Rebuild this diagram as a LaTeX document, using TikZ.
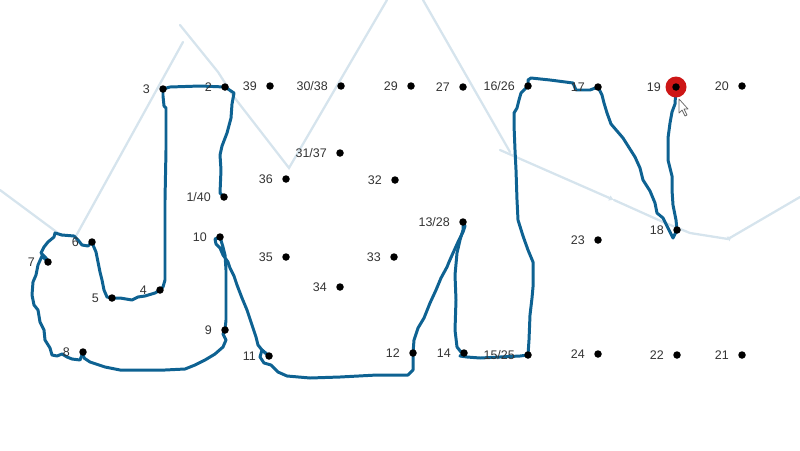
\documentclass[tikz,border=0pt]{standalone}
\usepackage{fontspec}
\setmainfont{Liberation Sans}
\usetikzlibrary{backgrounds,arrows.meta}
\definecolor{penblue}{RGB}{14,98,146}
\definecolor{faintblue}{RGB}{214,228,237}
\definecolor{markred}{RGB}{205,22,22}
\definecolor{labgray}{RGB}{51,51,51}

\begin{document}
\begin{tikzpicture}[x=0.02cm,y=-0.02cm]
\tikzset{v/.style={circle,fill=black,inner sep=0pt,minimum size=0.15cm},
  lab/.style={font=\fontsize{7.1}{8}\selectfont,text=labgray,inner sep=0pt,xshift=-0.175cm},
  pen/.style={draw=penblue,line width=1.7pt,line join=round,line cap=round},
  trace/.style={draw=faintblue,line width=1.3pt,line cap=round}}
\useasboundingbox (0,0) rectangle (800,450);

% top row
\path (163,89) node[v,label={[lab]left:3}] (p3) {};
\path (225,87) node[v,label={[lab]left:2}] (p2) {};
\path (270,86) node[v,label={[lab]left:39}] (p39) {};
\path (341,86) node[v,label={[lab]left:30/38}] (p30) {};
\path (411,86) node[v,label={[lab]left:29}] (p29) {};
\path (463,87) node[v,label={[lab]left:27}] (p27) {};
\path (528,86) node[v,label={[lab]left:16/26}] (p16) {};
\path (598,87) node[v,label={[lab]left:17}] (p17) {};
\path (742,86) node[v,label={[lab]left:20}] (p20) {};

% middle
\path (340,153) node[v,label={[lab]left:31/37}] (p31) {};
\path (286,179) node[v,label={[lab]left:36}] (p36) {};
\path (395,180) node[v,label={[lab]left:32}] (p32) {};
\path (224,197) node[v,label={[lab]left:1/40}] (p1) {};
\path (463,222) node[v,label={[lab]left:13/28}] (p13) {};
\path (677,230) node[v,label={[lab]left:18}] (p18) {};
\path (598,240) node[v,label={[lab]left:23}] (p23) {};
\path (92,242) node[v,label={[lab]left:6}] (p6) {};
\path (220,237) node[v,label={[lab]left:10}] (p10) {};
\path (48,262) node[v,label={[lab]left:7}] (p7) {};
\path (286,257) node[v,label={[lab]left:35}] (p35) {};
\path (394,257) node[v,label={[lab]left:33}] (p33) {};
\path (340,287) node[v,label={[lab]left:34}] (p34) {};
\path (160,290) node[v,label={[lab]left:4}] (p4) {};
\path (112,298) node[v,label={[lab]left:5}] (p5) {};
\path (225,330) node[v,label={[lab]left:9}] (p9) {};

% bottom row
\path (83,352) node[v,label={[lab]left:8}] (p8) {};
\path (269,356) node[v,label={[lab]left:11}] (p11) {};
\path (413,353) node[v,label={[lab]left:12}] (p12) {};
\path (464,353) node[v,label={[lab]left:14}] (p14) {};
\path (528,355) node[v,label={[lab]left:15/25}] (p15) {};
\path (598,354) node[v,label={[lab]left:24}] (p24) {};
\path (677,355) node[v,label={[lab]left:22}] (p22) {};
\path (742,355) node[v,label={[lab]left:21}] (p21) {};

% current dot
\path (676,87) node[circle,fill=markred,minimum size=0.42cm,inner sep=0pt] (mark) {};
\path (676,87) node[v,label={[lab,xshift=-0.04cm]left:19}] (p19) {};

\begin{pgfonlayer}{background}
% earlier strokes
\draw[trace] (0,190) -- (62,236);
\draw[trace] (183,42) -- (76,236);
\draw[trace] (180,25) -- (218,72) -- (234,97) -- (289,168) -- (387,0);
\draw[trace] (423,0) -- (510,152);
\draw[trace,-{Latex[length=0.1cm,width=0.12cm]}] (500,150) -- (614,200);
\draw[trace] (614,200) -- (663,222) -- (690,233) -- (728,239);
\draw[trace,{Latex[length=0.1cm,width=0.12cm,reversed]}-] (728,239) -- (800,197);

% pen stroke
\draw[pen] (p1.center) -- (220,193) -- (221,170) -- (220,155) -- (222,146) -- (227,133)
  -- (231,118) -- (232,104) -- (234,93) -- (228,89) -- (p2.center) -- (200,86) -- (170,87) -- (p3.center);
\draw[pen] (p3.center) -- (163,96) -- (164,106) -- (166,108) -- (166,150) -- (165,200)
  -- (165,250) -- (165,280) -- (163,287) -- (p4.center);
\draw[pen] (p4.center) -- (155,293) -- (145,296) -- (138,297) -- (132,300) -- (120,298) -- (p5.center);
\draw[pen] (p5.center) -- (107,297) -- (104,290) -- (102,280) -- (100,272) -- (98,262)
  -- (96,252) -- (93,245) -- (p6.center);
\draw[pen] (p6.center) -- (88,246) -- (82,245) -- (78,240) -- (74,236) -- (62,235) -- (55,233)
  -- (54,237) -- (48,242) -- (44,247) -- (41,253) -- (46,258) -- (p7.center);
\draw[pen] (p7.center) -- (42,256) -- (38,265) -- (36,275) -- (33,282) -- (32,295) -- (34,305)
  -- (38,310) -- (40,322) -- (44,330) -- (45,340) -- (50,348) -- (52,355) -- (57,356)
  -- (62,354) -- (67,357) -- (72,359) -- (80,360) -- (82,355) -- (p8.center);
\draw[pen] (p8.center) -- (84,358) -- (90,362) -- (105,367) -- (120,370) -- (140,370)
  -- (165,370) -- (185,369) -- (195,365) -- (205,360) -- (215,354) -- (223,347)
  -- (226,340) -- (223,334) -- (p9.center);
\draw[pen] (p9.center) -- (226,320) -- (226,290) -- (226,270) -- (225,255) -- (223,247)
  -- (p10.center) -- (215,239) -- (216,244) -- (220,248) -- (223,255) -- (228,262)
  -- (230,268) -- (234,276) -- (237,285) -- (242,298) -- (247,310) -- (252,325)
  -- (256,337) -- (258,345) -- (262,350) -- (p11.center);
\draw[pen] (p11.center) -- (262,350) -- (260,357) -- (264,363) -- (271,365) -- (278,372)
  -- (287,376) -- (310,378) -- (340,377) -- (377,375) -- (408,375) -- (413,370) -- (p12.center);
\draw[pen] (p12.center) -- (414,340) -- (418,328) -- (424,318) -- (430,303) -- (436,290)
  -- (441,278) -- (447,267) -- (449,262) -- (453,253) -- (458,242) -- (463,232) -- (465,226) -- (p13.center);
\draw[pen] (p13.center) -- (463,230) -- (460,240) -- (457,253) -- (455,275) -- (456,300)
  -- (455,330) -- (457,347) -- (461,352) -- (p14.center);
\draw[pen] (p14.center) -- (460,356) -- (467,357) -- (480,358) -- (500,357) -- (520,356) -- (p15.center);
\draw[pen] (p15.center) -- (529,340) -- (530,315) -- (532,298) -- (533,287) -- (533,262)
  -- (528,250) -- (523,236) -- (518,220) -- (517,200) -- (516,170) -- (515,150)
  -- (514,125) -- (514,113) -- (517,108) -- (519,100) -- (521,93) -- (525,89) -- (p16.center);
\draw[pen] (p16.center) -- (528,80) -- (531,78) -- (550,80) -- (573,83) -- (576,90) -- (590,90) -- (p17.center);
\draw[pen] (p17.center) -- (602,95) -- (604,103) -- (607,113) -- (611,124) -- (623,138)
  -- (635,157) -- (640,168) -- (643,180) -- (650,191) -- (655,203) -- (657,213)
  -- (663,218) -- (670,232) -- (673,238) -- (p18.center);
\draw[pen] (p18.center) -- (676,220) -- (673,205) -- (672,190) -- (672,176) -- (668,160)
  -- (668,138) -- (670,123) -- (672,112) -- (675,104) -- (p19.center);
\end{pgfonlayer}

% pointer
\draw[fill=white,draw=black!60,line width=0.4pt,line join=round]
  (679,99) -- (679,113) -- (682,110) -- (685,116) -- (687,115) -- (684,109) -- (688,109) -- cycle;

\end{tikzpicture}
\end{document}
